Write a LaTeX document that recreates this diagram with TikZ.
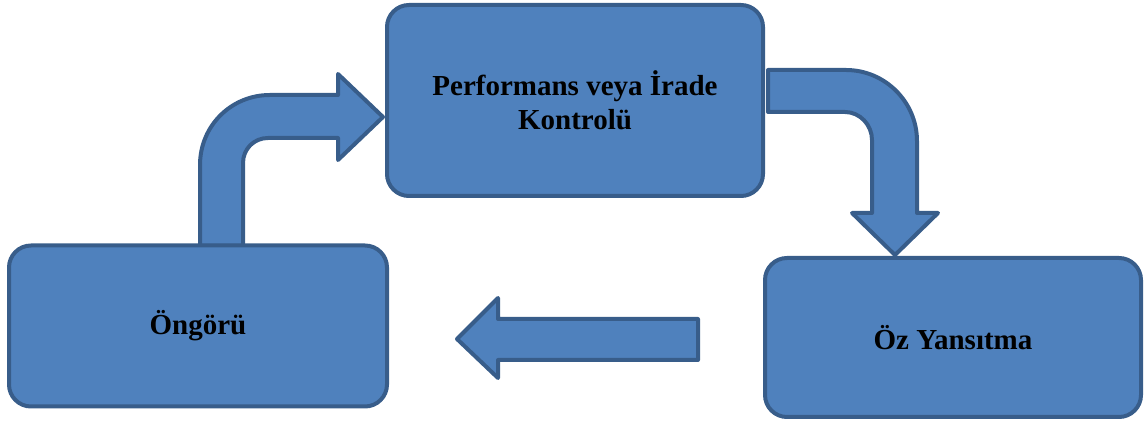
\documentclass[tikz,border=0pt]{standalone}
\usepackage{fontspec}
\setmainfont{Liberation Serif}
\usepackage{tikz}
\usetikzlibrary{positioning}

\definecolor{boxfill}{HTML}{4F81BD}
\definecolor{boxline}{HTML}{385D8A}

\begin{document}
\begin{tikzpicture}[x=0.5pt,y=-0.5pt,
  box/.style={draw=boxline,fill=boxfill,line width=2pt,rounded corners=11pt,align=center,
    font=\fontsize{14.5}{17}\selectfont\bfseries,inner sep=0pt},
  blk/.style={draw=boxline,fill=boxfill,line width=2pt,line join=round}]
\useasboundingbox (0,0) rectangle (1146,426);
% block arrows go under the boxes
\draw[blk] (200,246) -- (200,165) .. controls (200,126) and (231,95) .. (270,95)
  -- (338,95) -- (338,74) -- (383,117) -- (338,160) -- (338,138) -- (268,138)
  .. controls (254,138) and (243,149) .. (243,163) -- (243,246) -- cycle;
\draw[blk] (768,70) -- (846,70) .. controls (885,70) and (917,102) .. (917,141)
  -- (917,213) -- (938,213) -- (895,255) -- (852,213) -- (872,213) -- (872,140)
  .. controls (872,125) and (860,112) .. (845,112) -- (768,112) -- cycle;
\draw[blk] (698,319) -- (498,319) -- (498,298) -- (457,339) -- (498,378)
  -- (498,360) -- (698,360) -- cycle;
% boxes
\node (perf) [box,minimum width=188pt,minimum height=95.5pt] at (575,100.5)
  {Performans veya İrade\\Kontrolü};
\node (ongoru) [box,minimum width=189pt,minimum height=80.5pt] at (198,326) {Öngörü};
\node (oz) [box,minimum width=188pt,minimum height=79.5pt] at (953,337.5) {Öz Yansıtma};
\end{tikzpicture}
\end{document}
